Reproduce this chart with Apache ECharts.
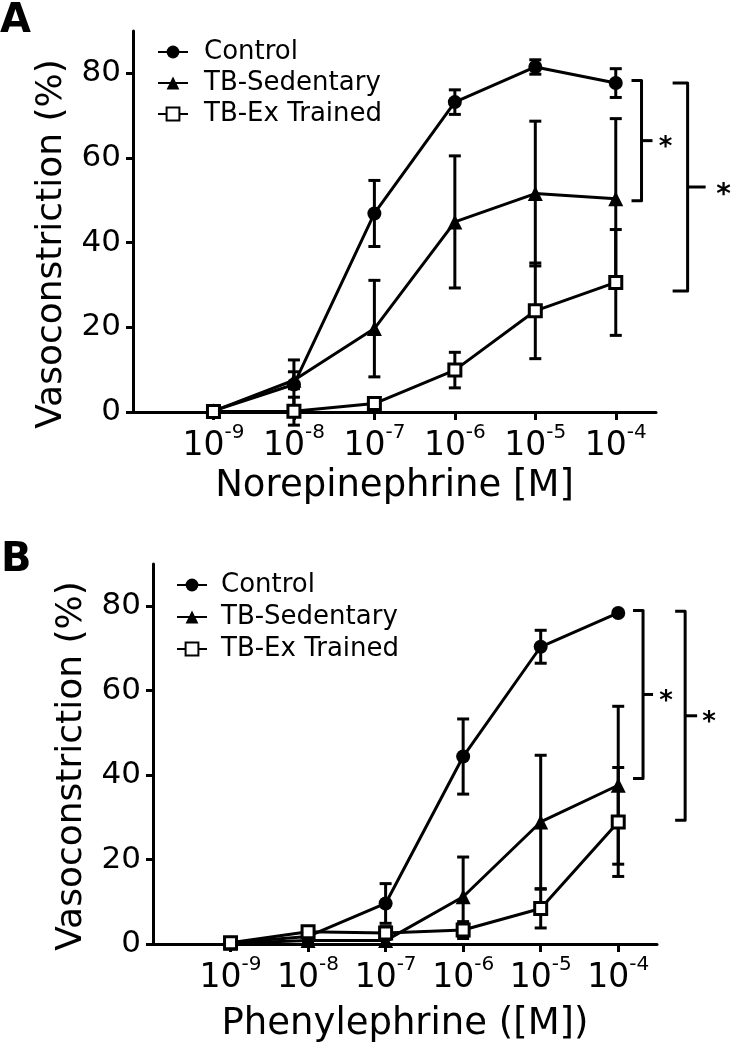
<!DOCTYPE html>
<html>
<head>
<meta charset="utf-8">
<script src="https://cdn.jsdelivr.net/npm/echarts@6/dist/echarts.min.js"></script>
<style>
html,body{margin:0;padding:0;background:#fff;}
#chart{width:731px;height:1052px;}
</style>
</head>
<body>
<div id="chart"></div>
<script>
// ---- data ----
var doses = [-9, -8, -7, -6, -5, -4];          // log10 [M]
var xTickValues = [-9, -8, -7, -6, -5, -4];
var yTickValues = [0, 20, 40, 60, 80];
var seriesNames = ['Control', 'TB-Sedentary', 'TB-Ex Trained'];

// Panel A: Norepinephrine
var ctrlA    = [0.3, 6.5, 46.9, 73.2, 81.5, 77.7];
var ctrlAErr = [0,   5.8, 7.8,  2.9,  1.7,  3.4];
var sedA     = [0.2, 7.5, 19.7, 44.9, 51.6, 50.4];
var sedAErr  = [0,   2.0, 11.4, 15.6, 17.1, 18.9];
var exA      = [0.1, 0.2, 2.0,  9.9,  23.9, 30.6];
var exAErr   = [0,   3.3, 1.0,  4.2,  11.3, 12.5];
// significance brackets A: [x (log M), top %, bottom %]
var bracketsA = [[-3.68, 78.3, 49.9], [-3.107, 77.7, 28.6]];

// Panel B: Phenylephrine
var ctrlB    = [0.3, 1.8, 9.6, 44.4, 70.4, 78.4];
var ctrlBErr = [0,   0,   4.7, 8.9,  3.9,  0];
var sedB     = [0.2, 0.8, 0.8, 11.2, 28.9, 37.6];
var sedBErr  = [0,   0.5, 0,   9.4,  15.8, 18.7];
var exB      = [0.3, 2.9, 2.6, 3.3,  8.4,  28.9];
var exBErr   = [0,   0,   1.5, 2.0,  4.6,  12.9];
var bracketsB = [[-3.68, 79.0, 39.2], [-3.137, 78.8, 29.3]];

// ---- chart ----
var FONT = 'DejaVu Sans';
var chart = echarts.init(document.getElementById('chart'), null, {renderer: 'canvas'});

function pairs(ys) { return doses.map(function (d, i) { return [d, ys[i]]; }); }
function errData(ys, es) { return doses.map(function (d, i) { return [d, ys[i], es[i]]; }); }

var symbols = [
  {symbol: 'circle', size: 14, itemStyle: {color: '#000'}},
  {symbol: 'triangle', size: 15, itemStyle: {color: '#000'}},
  {symbol: 'rect', size: 12, itemStyle: {color: '#fff', borderColor: '#000', borderWidth: 3}}
];

function lineSeries(k, ys, gi) {
  var s = symbols[k];
  return {
    type: 'line', name: seriesNames[k], xAxisIndex: gi, yAxisIndex: gi,
    data: pairs(ys), symbol: s.symbol, symbolSize: s.size,
    showAllSymbol: true,
    lineStyle: {color: '#000', width: 3},
    itemStyle: s.itemStyle,
    z: 5 + k, animation: false
  };
}

function errSeries(ys, es, gi) {
  return {
    type: 'custom', xAxisIndex: gi, yAxisIndex: gi, data: errData(ys, es),
    encode: {x: 0, y: 1}, z: 3, silent: true, animation: false,
    renderItem: function (params, api) {
      var x = api.value(0), y = api.value(1), e = api.value(2);
      if (!e) return null;
      var t = api.coord([x, y + e]), b = api.coord([x, y - e]);
      var w = 6;
      var st = {stroke: '#000', lineWidth: 3, fill: 'none'};
      return {type: 'group', children: [
        {type: 'line', shape: {x1: t[0], y1: t[1], x2: b[0], y2: b[1]}, style: st},
        {type: 'line', shape: {x1: t[0] - w, y1: t[1], x2: t[0] + w, y2: t[1]}, style: st},
        {type: 'line', shape: {x1: b[0] - w, y1: b[1], x2: b[0] + w, y2: b[1]}, style: st}
      ]};
    }
  };
}

function bracketSeries(br, gi, looks) {
  return {
    type: 'custom', xAxisIndex: gi, yAxisIndex: gi, data: br, clip: false,
    encode: {x: 0, y: 1}, z: 4, silent: true, animation: false,
    renderItem: function (params, api) {
      var lk = looks[params.dataIndex];
      var t = api.coord([api.value(0), api.value(1)]);
      var b = api.coord([api.value(0), api.value(2)]);
      var m = (t[1] + b[1]) / 2;
      var x = t[0];
      var st = {stroke: '#000', lineWidth: 3, lineJoin: 'round', fill: 'none'};
      return {type: 'group', children: [
        {type: 'polyline', shape: {points: [[x - lk.hook, t[1]], [x, t[1]], [x, b[1]], [x - lk.hook, b[1]]]}, style: st},
        {type: 'line', shape: {x1: x, y1: m, x2: x + lk.tick, y2: m}, style: st},
        {type: 'text', x: x + lk.star, y: m + lk.fs * 0.3, style: {text: '*', font: 'bold ' + lk.fs + 'px ' + FONT, fill: '#000', stroke: 'none', align: 'center', verticalAlign: 'middle', textAlign: 'center', textVerticalAlign: 'middle'}}
      ]};
    }
  };
}

function xAxisCfg(gi, title, gap) {
  return {
    type: 'value', gridIndex: gi, min: -10, max: -3.5, interval: 1,
    name: title, nameLocation: 'middle', nameGap: gap,
    nameTextStyle: {fontFamily: FONT, fontSize: 37, color: '#000'},
    axisLine: {show: true, onZero: false, lineStyle: {color: '#000', width: 3}},
    axisTick: {show: true, length: 8, lineStyle: {color: '#000', width: 3}, customValues: xTickValues},
    axisLabel: {
      customValues: xTickValues, margin: 11, color: '#000',
      formatter: function (v) { return '{b|10}{s|' + v + '}'; },
      rich: {
        b: {fontFamily: FONT, fontSize: 33, lineHeight: 46, color: '#000'},
        s: {fontFamily: FONT, fontSize: 20, lineHeight: 20, verticalAlign: 'top', color: '#000'}
      }
    },
    splitLine: {show: false}
  };
}

function yAxisCfg(gi) {
  return {
    type: 'value', gridIndex: gi, min: 0, max: 90, interval: 20,
    axisLine: {show: true, lineStyle: {color: '#000', width: 3}},
    axisTick: {show: true, length: 7, lineStyle: {color: '#000', width: 3}, customValues: yTickValues},
    axisLabel: {customValues: yTickValues, margin: 12, fontFamily: FONT, fontSize: 31, color: '#000'},
    splitLine: {show: false}
  };
}

var looksA = [{hook: 10, tick: 11, star: 24, fs: 26}, {hook: 15, tick: 18, star: 36, fs: 28}];
var looksB = [{hook: 10, tick: 10, star: 23, fs: 26}, {hook: 10, tick: 12, star: 24, fs: 26}];

var legendBase = {
  orient: 'vertical', data: seriesNames, padding: 0, itemWidth: 30, itemHeight: 16, itemGap: 5,
  selectedMode: false,
  textStyle: {fontFamily: FONT, fontSize: 26, color: '#000', padding: [0, 0, 0, 11]}
};

var option = {
  backgroundColor: '#fff',
  animation: false,
  grid: [
    {left: 133, right: 75, top: 31, bottom: 640, containLabel: false},
    {left: 153, right: 74, top: 564, bottom: 108, containLabel: false}
  ],
  legend: [
    Object.assign({}, legendBase, {left: 157, top: 39}),
    Object.assign({}, legendBase, {left: 176, top: 572, itemGap: 6, textStyle: Object.assign({}, legendBase.textStyle, {padding: [0, 0, 0, 9]})})
  ],
  xAxis: [xAxisCfg(0, 'Norepinephrine [M]', 56), xAxisCfg(1, 'Phenylephrine ([M])', 62)],
  yAxis: [yAxisCfg(0), yAxisCfg(1)],
  graphic: [
    {type: 'text', left: 0, top: 2, style: {text: 'A', font: 'bold 40px ' + FONT, fill: '#000'}},
    {type: 'text', left: 1, top: 541, style: {text: 'B', font: 'bold 40px ' + FONT, fill: '#000'}},
    {type: 'text', x: 52, y: 244, rotation: Math.PI / 2, style: {text: 'Vasoconstriction (%)', font: '36px ' + FONT, fill: '#000', align: 'center', verticalAlign: 'middle', textAlign: 'center', textVerticalAlign: 'middle'}},
    {type: 'text', x: 72, y: 766, rotation: Math.PI / 2, style: {text: 'Vasoconstriction (%)', font: '36px ' + FONT, fill: '#000', align: 'center', verticalAlign: 'middle', textAlign: 'center', textVerticalAlign: 'middle'}}
  ],
  series: [
    errSeries(ctrlA, ctrlAErr, 0), errSeries(sedA, sedAErr, 0), errSeries(exA, exAErr, 0),
    lineSeries(0, ctrlA, 0), lineSeries(1, sedA, 0), lineSeries(2, exA, 0),
    bracketSeries(bracketsA, 0, looksA),
    errSeries(ctrlB, ctrlBErr, 1), errSeries(sedB, sedBErr, 1), errSeries(exB, exBErr, 1),
    lineSeries(0, ctrlB, 1), lineSeries(1, sedB, 1), lineSeries(2, exB, 1),
    bracketSeries(bracketsB, 1, looksB)
  ]
};
chart.setOption(option);
</script>
</body>
</html>
